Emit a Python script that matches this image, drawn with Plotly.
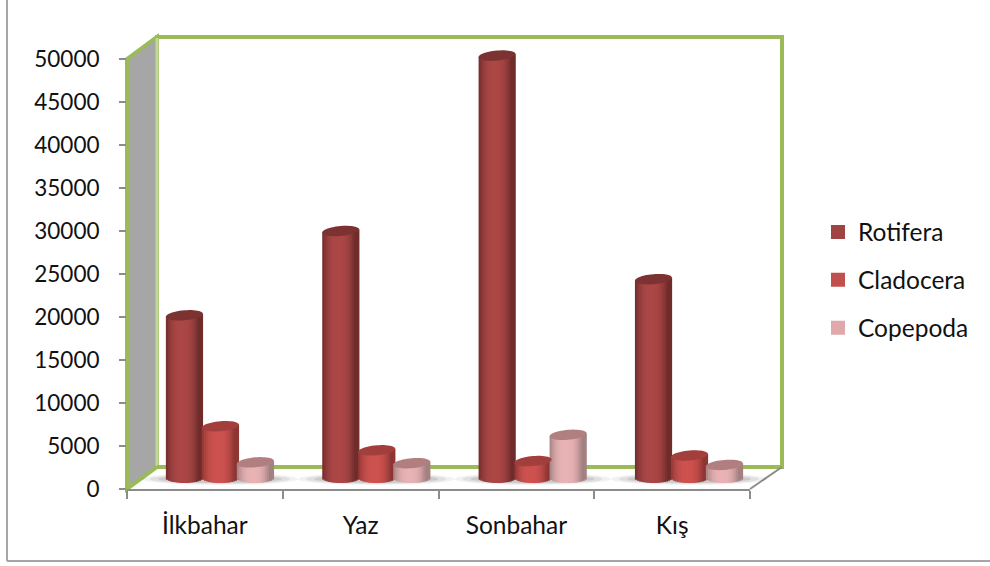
"""Mevsimlere göre zooplankton grupları: Excel tarzı 3B silindir grafik."""

import math

import plotly.graph_objects as go

seasons = ["İlkbahar", "Yaz", "Sonbahar", "Kış"]
rotifera = [20200, 30000, 50400, 24400]
cladocera = [7300, 4500, 3250, 3900]
copepoda = [3100, 3000, 6300, 2800]
y_ticks = [0, 5000, 10000, 15000, 20000, 25000, 30000, 35000, 40000, 45000, 50000]

FONT = "Lato"
TEXT = "#111111"
GREEN = "#9BBB59"
GRID_GRAY = "#8C8C8C"
NUM_SIZE = 22.5
LABEL_SIZE = 24.5

# piksel yerleşimi
W, H = 990, 566
LEFT, RIGHT, TOP, BOTTOM = 127, 750, 25, 489
PX_PER_UNIT = 430 / 50000
PX_PER_CAT = (RIGHT - LEFT) / 4
BAR_W = 36
N_STRIPS = 18
RY = 5  # silindir elipsinin dikey yarıçapı
TILT = 1.5  # üst elipsin eğimi
CAT_DRIFT = 0.6  # derinlikten gelen kategori başına kayma
FLOOR = (BOTTOM - 478) / PX_PER_UNIT  # silindirlerin oturduğu taban

series = [
    ("Rotifera", rotifera, -39, (0x70, 0x2C, 0x2B), (0xAB, 0x47, 0x46), "#7B3231", "#A04443"),
    ("Cladocera", cladocera, -3, (0x8E, 0x36, 0x34), (0xCD, 0x52, 0x4F), "#A23F3D", "#C0504D"),
    ("Copepoda", copepoda, 32, (0xA3, 0x80, 0x81), (0xE9, 0xB3, 0xB5), "#B27F80", "#DFA9AB"),
]


def px(x):
    return (x - LEFT) / (RIGHT - LEFT)


def py(y):
    return (BOTTOM - y) / (BOTTOM - TOP)


def poly(points):
    return "M" + " L".join(f"{px(x):.5f},{py(y):.5f}" for x, y in points) + " Z"


def shade(dark, light, t):
    # t: -1 sol kenar, +1 sağ kenar; parlak bant ortanın biraz solunda
    u = min(1, abs(t + 0.1) / 0.9)
    k = 1 - u**2.6
    return "rgb(" + ",".join(str(round(d + (l - d) * k)) for d, l in zip(dark, light)) + ")"


fig = go.Figure()

shapes = [
    # dış çerçeve
    dict(type="line", xref="paper", yref="paper", x0=px(7), x1=px(7), y0=py(0), y1=py(561),
         line=dict(color="#A6A6A6", width=2), layer="below"),
    dict(type="line", xref="paper", yref="paper", x0=px(7), x1=px(990), y0=py(561), y1=py(561),
         line=dict(color="#A6A6A6", width=2), layer="below"),
    # sol duvar
    dict(type="path", xref="paper", yref="paper",
         path=poly([(127, 59), (157, 37), (157, 467), (127, 489)]),
         fillcolor="#A6A6A6", line=dict(color=GREEN, width=4), layer="below"),
    # arka duvar
    dict(type="path", xref="paper", yref="paper",
         path=poly([(157, 37), (782, 37), (782, 467), (157, 467)]),
         fillcolor="white", line=dict(color=GREEN, width=4), layer="below"),
    dict(type="line", xref="paper", yref="paper", x0=px(157), x1=px(157), y0=py(38), y1=py(466),
         line=dict(color="#C3D69B", width=3), layer="below"),
    # zemin
    dict(type="path", xref="paper", yref="paper",
         path=poly([(127, 489), (750, 489), (782, 467), (157, 467)]),
         fillcolor="white", line=dict(width=0), layer="below"),
    dict(type="line", xref="paper", yref="paper", x0=px(157), x1=px(782), y0=py(467), y1=py(467),
         line=dict(color=GREEN, width=4), layer="below"),
    dict(type="line", xref="paper", yref="paper", x0=px(127), x1=px(157), y0=py(489), y1=py(467),
         line=dict(color=GREEN, width=4), layer="below"),
    dict(type="line", xref="paper", yref="paper", x0=px(750), x1=px(782), y0=py(489), y1=py(467),
         line=dict(color=GRID_GRAY, width=2), layer="below"),
]

# bar grubunun zemindeki gölgesi
for i in range(len(seasons)):
    cx = LEFT + PX_PER_CAT * (i + 0.5) + 15 + i * CAT_DRIFT
    for grow, alpha in ((24, 0.07), (16, 0.09), (8, 0.12)):
        shapes.append(dict(
            type="circle", xref="paper", yref="paper",
            x0=px(cx - 54 - grow), x1=px(cx + 54 + grow),
            y0=py(479 - 3 - grow / 8), y1=py(479 + 3 + grow / 8),
            fillcolor=f"rgba(60,60,60,{alpha})", line=dict(width=0), layer="below",
        ))

strip_w = BAR_W / N_STRIPS
for name, values, left_px, dark, light, top_color, legend_color in series:
    for s in range(N_STRIPS):
        t = (s + 0.5) / N_STRIPS * 2 - 1
        base = FLOOR - RY * math.sqrt(1 - t * t) / PX_PER_UNIT
        lift = t * TILT / PX_PER_UNIT
        fig.add_trace(go.Bar(
            x=seasons,
            y=[v + lift - base for v in values],
            base=base,
            width=(strip_w + 1.2) / PX_PER_CAT,
            offset=[(left_px + s * strip_w + i * CAT_DRIFT) / PX_PER_CAT for i in range(len(seasons))],
            marker=dict(color=shade(dark, light, t), line=dict(width=0)),
            legendgroup=name,
            showlegend=False,
            hoverinfo="skip",
            cliponaxis=False,
        ))
    # lejant girdisi
    fig.add_trace(go.Bar(
        x=[seasons[0]], y=[None], name=name, legendgroup=name,
        marker=dict(color=legend_color, line=dict(color=legend_color, width=2)),
    ))
    # silindirin üst elipsi, biraz eğik
    for i, v in enumerate(values):
        cx = LEFT + PX_PER_CAT * (i + 0.5) + left_px + BAR_W / 2 + i * CAT_DRIFT + 0.5
        cy = BOTTOM - v * PX_PER_UNIT
        outline = []
        for k in range(48):
            a = 2 * math.pi * k / 48
            outline.append((cx + (BAR_W / 2 + 0.5) * math.cos(a),
                            cy + RY * math.sin(a) - TILT * math.cos(a)))
        shapes.append(dict(
            type="path", xref="paper", yref="paper", path=poly(outline),
            fillcolor=top_color, line=dict(width=0), layer="above",
        ))

fig.update_layout(
    width=W,
    height=H,
    margin=dict(l=LEFT, r=W - RIGHT, t=TOP, b=H - BOTTOM, pad=0),
    paper_bgcolor="white",
    plot_bgcolor="rgba(0,0,0,0)",
    barmode="overlay",
    font=dict(family=FONT, size=LABEL_SIZE, color=TEXT),
    shapes=shapes,
    legend=dict(
        x=px(818), xanchor="left", y=py(280), yanchor="middle",
        tracegroupgap=13, itemwidth=30, font=dict(family=FONT, size=LABEL_SIZE, color=TEXT),
        bgcolor="rgba(0,0,0,0)",
    ),
    xaxis=dict(
        type="category",
        categoryorder="array",
        categoryarray=seasons,
        range=[-0.5, 3.5],
        tickson="boundaries",
        ticks="outside",
        ticklen=8,
        tickcolor=GRID_GRAY,
        tickwidth=2,
        showline=True,
        linecolor=GRID_GRAY,
        linewidth=2,
        showgrid=False,
        ticklabelstandoff=14,
        tickfont=dict(family=FONT, size=LABEL_SIZE, color=TEXT),
    ),
    yaxis=dict(
        range=[0, (BOTTOM - TOP) / PX_PER_UNIT],
        tickvals=y_ticks,
        ticktext=[str(v) for v in y_ticks],
        ticks="outside",
        ticklen=7,
        tickcolor=GRID_GRAY,
        tickwidth=2,
        showline=False,
        showgrid=False,
        zeroline=False,
        ticklabelstandoff=15,
        tickfont=dict(family=FONT, size=NUM_SIZE, color=TEXT),
    ),
)

fig.write_html(
    "out.html",
    config={"displayModeBar": False},
    post_script="document.body.style.margin='0';",
)
